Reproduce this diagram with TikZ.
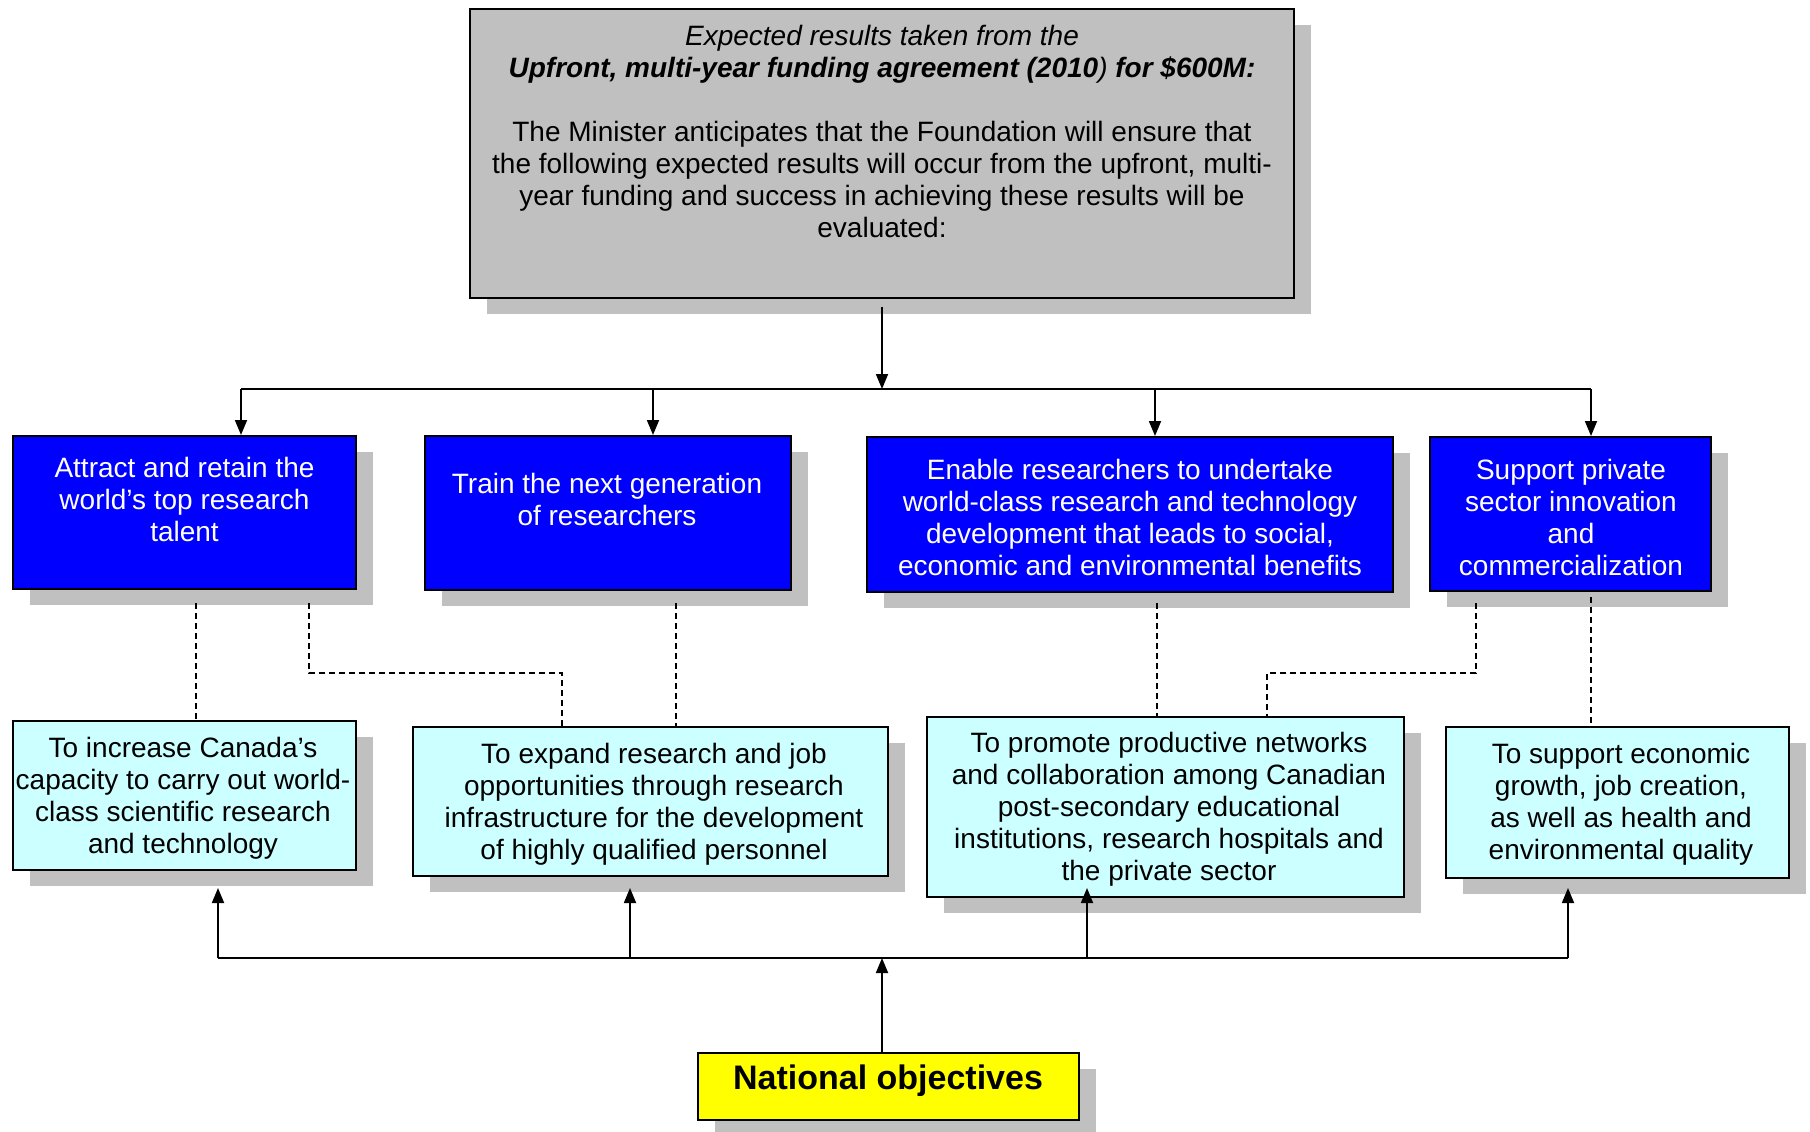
\documentclass[tikz,border=0pt]{standalone}
\usepackage{fontspec}
\setmainfont{Liberation Sans}
\usetikzlibrary{arrows.meta,shadows}
\definecolor{boxgray}{HTML}{C0C0C0}
\definecolor{shadowgray}{HTML}{C0C0C0}
\definecolor{bluefill}{HTML}{0000FF}
\definecolor{cyanfill}{HTML}{CCFFFF}
\definecolor{yellowfill}{HTML}{FFFF00}
\newcommand\txtsize{\fontsize{28}{32}\selectfont}
\tikzset{
  sbox/.style={draw=black, line width=2pt, inner sep=0pt,
    drop shadow={shadow xshift=17pt, shadow yshift=-16pt, fill=shadowgray, opacity=1, draw=none}},
  graybox/.style={sbox, fill=boxgray},
  bluebox/.style={sbox, fill=bluefill},
  cyanbox/.style={sbox, fill=cyanfill},
  yellowbox/.style={sbox, fill=yellowfill},
  bluetext/.style={align=center, font=\txtsize, text=white, inner sep=0pt},
  toptext/.style={align=center, font=\txtsize, inner sep=0pt},
  cyantext/.style={align=center, font=\txtsize, inner sep=0pt},
  yellowtext/.style={align=center, font=\fontsize{34}{40}\selectfont\bfseries, inner sep=0pt},
  conn/.style={line width=1.8pt},
  arr/.style={conn, -{Triangle[length=15pt,width=12pt]}},
  dconn/.style={line width=1.6pt, dash pattern=on 6pt off 4pt},
}
\begin{document}
\begin{tikzpicture}[x=1pt,y=-1pt]
\useasboundingbox (0,0) rectangle (1810,1132);

% top box
\node[graybox, minimum width=824pt, minimum height=289pt] (top) at (882,153.5) {};
\node[toptext] (toptxt) at (882,131) {\textit{Expected results taken from the}\\
\textbf{\textit{Upfront, multi-year funding agreement (2010}}\textit{)} \textbf{\textit{for \$600M:}}\\[32pt]
The Minister anticipates that the Foundation will ensure that\\
the following expected results will occur from the upfront, multi-\\
year funding and success in achieving these results will be\\
evaluated:};

% blue boxes
\node[bluebox, minimum width=343pt, minimum height=153pt] (b1) at (184.5,512.5) {};
\node[bluebox, minimum width=366pt, minimum height=154pt] (b2) at (608,513) {};
\node[bluebox, minimum width=526pt, minimum height=155pt] (b3) at (1130,514.5) {};
\node[bluebox, minimum width=281pt, minimum height=154pt] (b4) at (1570.5,514) {};
\node[bluetext] (b1t) at (184.5,499) {Attract and retain the\\world’s top research\\talent};
\node[bluetext] (b2t) at (607,499) {Train the next generation\\of researchers};
\node[bluetext] (b3t) at (1130,517) {Enable researchers to undertake\\world-class research and technology\\development that leads to social,\\economic and environmental benefits};
\node[bluetext] (b4t) at (1571,517) {Support private\\sector innovation\\and\\commercialization};

% cyan boxes
\node[cyanbox, minimum width=343pt, minimum height=149pt] (c1) at (184.5,795.5) {};
\node[cyanbox, minimum width=475pt, minimum height=149pt] (c2) at (650.5,801.5) {};
\node[cyanbox, minimum width=477pt, minimum height=180pt] (c3) at (1165.5,807) {};
\node[cyanbox, minimum width=343pt, minimum height=151pt] (c4) at (1617.5,802.5) {};
\node[cyantext] (c1t) at (183,798) {To increase Canada’s\\capacity to carry out world-\\class scientific research\\and technology};
\node[cyantext] (c2t) at (654,804) {To expand research and job\\opportunities through research\\infrastructure for the development\\of highly qualified personnel};
\node[cyantext] (c3t) at (1169,809) {To promote productive networks\\and collaboration among Canadian\\post-secondary educational\\institutions, research hospitals and\\the private sector};
\node[cyantext] (c4t) at (1621,804) {To support economic\\growth, job creation,\\as well as health and\\environmental quality};

% yellow box
\node[yellowbox, minimum width=381pt, minimum height=67pt] (nat) at (888.5,1086.5) {};
\node[yellowtext] (natt) at (888,1081) {National objectives};

% top connectors
\coordinate (topout) at (882,307);
\coordinate (tbc) at (882,389);
\coordinate (tb1) at (241,389);
\coordinate (tb2) at (653,389);
\coordinate (tb3) at (1155,389);
\coordinate (tb4) at (1591,389);
\draw[conn] (tb1) -- (tb4);
\draw[arr] (topout) -- (tbc);
\draw[arr] (tb1) -- (tb1 |- b1.north);
\draw[arr] (tb2) -- (tb2 |- b2.north);
\draw[arr] (tb3) -- (tb3 |- b3.north);
\draw[arr] (tb4) -- (tb4 |- b4.north);

% dashed links
\coordinate (d1) at (196,603);
\coordinate (d2) at (309,603);
\coordinate (d2m) at (309,673);
\coordinate (d2n) at (562,673);
\coordinate (d3) at (676,603);
\coordinate (d4) at (1157,603);
\coordinate (d5) at (1476,603);
\coordinate (d5m) at (1476,673);
\coordinate (d5n) at (1267,673);
\coordinate (d6) at (1591,597);
\draw[dconn] (d1) -- (d1 |- c1.north);
\draw[dconn] (d2) -- (d2m) -- (d2n) -- (d2n |- c2.north);
\draw[dconn] (d3) -- (d3 |- c2.north);
\draw[dconn] (d4) -- (d4 |- c3.north);
\draw[dconn] (d5) -- (d5m) -- (d5n) -- (d5n |- c3.north);
\draw[dconn] (d6) -- (d6 |- c4.north);

% bottom connectors
\coordinate (bb1) at (218,958);
\coordinate (bb2) at (630,958);
\coordinate (bbc) at (882,958);
\coordinate (bb3) at (1087,958);
\coordinate (bb4) at (1568,958);
\coordinate (up1) at (218,888);
\coordinate (up2) at (630,888);
\coordinate (up3) at (1087,888);
\coordinate (up4) at (1568,888);
\draw[conn] (bb1) -- (bb4);
\draw[arr] (bbc |- nat.north) -- (bbc);
\draw[arr] (bb1) -- (up1);
\draw[arr] (bb2) -- (up2);
\draw[arr] (bb3) -- (up3);
\draw[arr] (bb4) -- (up4);
\end{tikzpicture}
\end{document}
